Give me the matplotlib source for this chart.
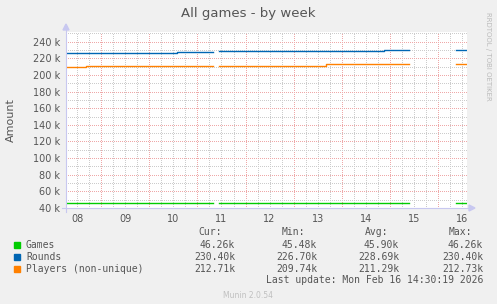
import numpy as np
import matplotlib.pyplot as plt
from matplotlib.ticker import FuncFormatter

nan = np.nan

# time in days (Feb), value in units
games_t = [8.27, 11.33, 11.45, 15.40, 16.38, 16.60]
games_v = [45480, nan, 45900, nan, 46260, 46260]

rounds_t = [8.27, 10.58, 11.33, 11.45, 12.47, 14.87, 15.40, 16.38, 16.60]
rounds_v = [226700, 227600, nan, 228300, 229300, 230400, nan, 230400, 230400]

players_t = [8.27, 8.69, 11.33, 11.45, 13.68, 15.40, 16.38, 16.60]
players_v = [209740, 210600, nan, 211300, 212730, nan, 212730, 212730]

day_labels = ['08', '09', '10', '11', '12', '13', '14', '15', '16']
legend_names = ['Games', 'Rounds', 'Players (non-unique)']
legend_colors = ['#00CC00', '#0066B3', '#FF8000']
cur_vals = ['46.26k', '230.40k', '212.71k']
min_vals = ['45.48k', '226.70k', '209.74k']
avg_vals = ['45.90k', '228.69k', '211.29k']
max_vals = ['46.26k', '230.40k', '212.73k']

W, H = 497, 304
fig = plt.figure(figsize=(W / 100, H / 100), dpi=100)
fig.patch.set_facecolor('#F0F0F0')

L, R, T, B = 66, 467, 32, 208
ax = fig.add_axes([L / W, (H - B) / H, (R - L) / W, (B - T) / H])
ax.set_facecolor('white')
x0, x1 = 8.27, 16.60
y0, y1 = 40000, 251600
ax.set_xlim(x0, x1)
ax.set_ylim(y0, y1)

# grid: red at midnight / 20k, grey at 6h / 10k
dash = dict(lw=0.72, dashes=(1, 2), antialiased=False)
for d in np.arange(8, 17.01, 0.25):
    if x0 < d < x1:
        if abs(d - round(d)) < 1e-6:
            ax.axvline(d, color='#EFA8A8', zorder=1, **dash)
        else:
            ax.axvline(d, color='#CCCCCC', zorder=1, **dash)
for v in np.arange(50000, 251000, 10000):
    if v % 20000 == 0:
        ax.axhline(v, color='#EFA8A8', zorder=1, **dash)
    else:
        ax.axhline(v, color='#CCCCCC', zorder=1, **dash)

for t, v, c in zip([games_t, rounds_t, players_t],
                   [games_v, rounds_v, players_v], legend_colors):
    ax.plot(t, v, drawstyle='steps-post', color=c, lw=1.0, zorder=3)

ax.set_xticks(np.arange(8.5, 17, 1.0))
ax.set_xticklabels(day_labels)
ax.set_yticks(np.arange(40000, 250000, 20000))
ax.yaxis.set_major_formatter(FuncFormatter(lambda v, p: f'{int(v / 1000)} k'))
ax.tick_params(length=0, labelsize=7, colors='#555555', pad=4)
for s in ax.spines.values():
    s.set_visible(False)

# axes with arrows
axis_c = '#C8C8F0'
fig.add_artist(plt.Line2D([L / W, L / W], [(H - 212) / H, (H - 27) / H],
                          color=axis_c, lw=0.8))
fig.add_artist(plt.Line2D([(L - 4) / W, 471 / W], [(H - B) / H, (H - B) / H],
                          color=axis_c, lw=0.8))
fig.add_artist(plt.Polygon([[(L - 3) / W, (H - 30) / H], [(L + 3) / W, (H - 30) / H],
                            [L / W, (H - 24) / H]], closed=True, color=axis_c,
                           transform=fig.transFigure))
fig.add_artist(plt.Polygon([[469 / W, (H - B - 3) / H], [469 / W, (H - B + 3) / H],
                            [475 / W, (H - B) / H]], closed=True, color=axis_c,
                           transform=fig.transFigure))

fig.text(248 / W, 1 - 13 / H, 'All games - by week', ha='center', va='center',
         fontsize=9.5, color='#555555')
fig.text(11 / W, 1 - 120 / H, 'Amount', rotation=90, ha='center', va='center',
         fontsize=8, color='#555555')
fig.text(488 / W, 1 - 56 / H, 'RRDTOOL / TOBI OETIKER', rotation=270,
         ha='center', va='center', fontsize=5, color='#BBBBBB')

mono = dict(family='DejaVu Sans Mono', fontsize=7, color='#555555', va='center')
rows_y = [245, 257, 269]
fig.text(222 / W, 1 - 232 / H, 'Cur:', ha='right', **mono)
fig.text(305 / W, 1 - 232 / H, 'Min:', ha='right', **mono)
fig.text(388 / W, 1 - 232 / H, 'Avg:', ha='right', **mono)
fig.text(472 / W, 1 - 232 / H, 'Max:', ha='right', **mono)
for i, yy in enumerate(rows_y):
    fig.add_artist(plt.Rectangle((14 / W, 1 - (yy + 3) / H), 6 / W, 6 / H,
                                 color=legend_colors[i], transform=fig.transFigure))
    fig.text(26 / W, 1 - yy / H, legend_names[i], ha='left', **mono)
    fig.text(235 / W, 1 - yy / H, cur_vals[i], ha='right', **mono)
    fig.text(317 / W, 1 - yy / H, min_vals[i], ha='right', **mono)
    fig.text(399 / W, 1 - yy / H, avg_vals[i], ha='right', **mono)
    fig.text(483 / W, 1 - yy / H, max_vals[i], ha='right', **mono)
fig.text(483 / W, 1 - 280 / H, 'Last update: Mon Feb 16 14:30:19 2026', ha='right', **mono)
fig.text(248 / W, 1 - 295 / H, 'Munin 2.0.54', ha='center', va='center',
         fontsize=5.5, color='#C0C0C0')

fig.savefig('out.png', dpi=100, facecolor=fig.get_facecolor())
